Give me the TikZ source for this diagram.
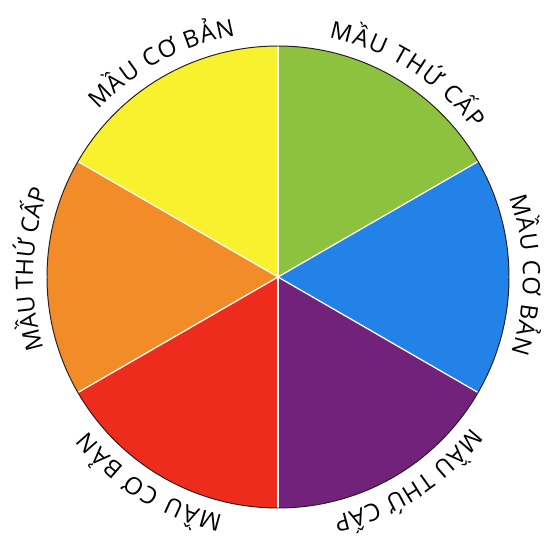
\documentclass[tikz,border=0pt]{standalone}
\usepackage{fontspec}
\setmainfont{Open Sans}
\usetikzlibrary{decorations.text}
\usepackage{xcolor}
\definecolor{yellowSec}{RGB}{248,241,46}
\definecolor{greenSec}{RGB}{140,194,62}
\definecolor{blueSec}{RGB}{34,130,232}
\definecolor{purpleSec}{RGB}{114,34,122}
\definecolor{redSec}{RGB}{238,44,30}
\definecolor{orangeSec}{RGB}{242,140,40}
\definecolor{rimLine}{RGB}{40,30,30}

\begin{document}
\begin{tikzpicture}[
    x=0.25mm, y=0.25mm,
    divider/.style={draw=white, line width=0.9pt},
    arctext/.style={decorate, decoration={text along path, text align={fit to path},
        text={|\fontsize{17}{20}\selectfont|#1}}}
]
\useasboundingbox (-278,-263) rectangle (267,277);

% sectors
\fill[yellowSec] (0,0) -- (90:231) arc (90:150:231) -- cycle;
\fill[greenSec] (0,0) -- (30:231) arc (30:90:231) -- cycle;
\fill[blueSec] (0,0) -- (-30:231) arc (-30:30:231) -- cycle;
\fill[purpleSec] (0,0) -- (-90:231) arc (-90:-30:231) -- cycle;
\fill[redSec] (0,0) -- (210:231) arc (210:270:231) -- cycle;
\fill[orangeSec] (0,0) -- (150:231) arc (150:210:231) -- cycle;

\foreach \a in {30,90,...,330}
    \draw[divider] (0,0) -- (\a:231);
\draw[rimLine, line width=0.7pt] (0,0) circle (231);

% labels
\path[arctext={MẦU CƠ BẢN}] (137:245) arc (137:100:245);
\path[arctext={MẦU THỨ CẤP}] (78:245) arc (78:37:245);
\path[arctext={MẦU CƠ BẢN}] (19:245) arc (19:-18:245);
\path[arctext={MẦU THỨ CẤP}] (-38:245) arc (-38:-77:245);
\path[arctext={MẦU CƠ BẢN}] (257:245) arc (257:219:245);
\path[arctext={MẦU THỨ CẤP}] (197:245) arc (197:160:245);
\end{tikzpicture}
\end{document}
